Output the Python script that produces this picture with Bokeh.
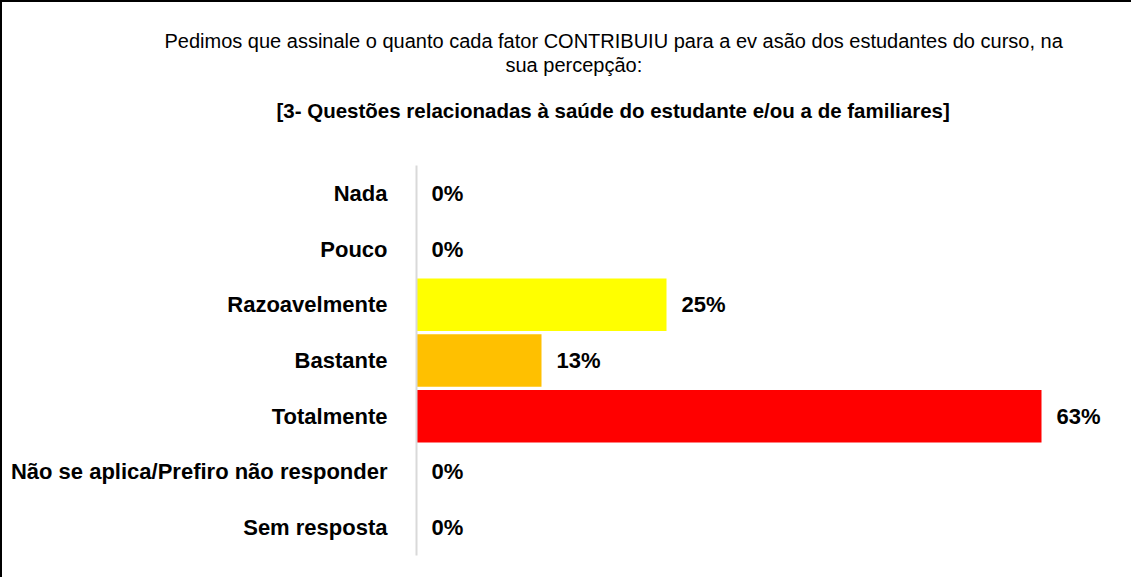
from bokeh.plotting import figure
from bokeh.models import FactorRange, Title, ColumnDataSource, FixedTicker
from bokeh.core.properties import value
from bokeh.embed import file_html
from bokeh.resources import INLINE

categories = ["Nada", "Pouco", "Razoavelmente", "Bastante", "Totalmente",
              "Não se aplica/Prefiro não responder", "Sem resposta"]
percentages = [0, 0, 25, 12.5, 62.5, 0, 0]
value_labels = ["0%", "0%", "25%", "13%", "63%", "0%", "0%"]
bar_colors = ["#FFFF00", "#FFFF00", "#FFFF00", "#FFC000", "#FF0000", "#FF0000", "#FF0000"]

title_line1 = "Pedimos que assinale o quanto cada fator CONTRIBUIU para a ev asão dos estudantes do curso, na"
title_line2 = "sua percepção:"
title_line3 = "[3- Questões relacionadas à saúde do estudante e/ou a de familiares]"

FONT = "'Liberation Sans', Arial, sans-serif"

source = ColumnDataSource(dict(cat=categories, val=percentages, lab=value_labels, col=bar_colors))

p = figure(width=1131, height=577, output_backend="svg", toolbar_location=None,
           y_range=FactorRange(factors=list(reversed(categories))),
           x_range=(0, 70), x_axis_location="above",
           min_border_left=414, min_border_right=17, min_border_top=163, min_border_bottom=24)
p.styles = {"border-top": "2px solid black", "border-left": "2px solid black"}
p.outline_line_color = None
p.grid.visible = False
p.background_fill_color = "white"
p.border_fill_color = "white"

p.hbar(y="cat", right="val", left=0, height=0.94, color="col", line_color=None, source=source)
p.text(x="val", y="cat", text="lab", source=source, x_offset=15, text_baseline="middle",
       text_align="left", text_font=value(FONT), text_font_style="bold",
       text_font_size="22px", text_color="black")

ax = p.yaxis[0]
ax.axis_line_color = "#D9D9D9"
ax.axis_line_width = 2
ax.major_tick_line_color = None
ax.minor_tick_line_color = None
ax.major_label_text_font = FONT
ax.major_label_text_font_style = "bold"
ax.major_label_text_font_size = "22px"
ax.major_label_text_color = "black"
ax.major_label_standoff = 23

# the value axis is hidden (white tick, empty label); it only keeps a gap under the titles
xa = p.xaxis[0]
xa.ticker = FixedTicker(ticks=[0])
xa.major_label_overrides = {0: ""}
xa.major_label_text_font_size = "1px"
xa.axis_line_color = None
xa.major_tick_line_color = "white"
xa.minor_tick_line_color = None
xa.major_tick_in = 0
xa.major_tick_out = 22
xa.minor_tick_in = 0
xa.minor_tick_out = 0
xa.major_label_standoff = 0

p.add_layout(Title(text=title_line3, align="left", offset=-140, standoff=43, text_font=FONT,
                   text_font_style="bold", text_font_size="20.5px", text_color="black"), "above")
p.add_layout(Title(text=title_line2, align="left", offset=89, standoff=0, text_font=FONT,
                   text_font_style="normal", text_font_size="20px", text_color="black"), "above")
p.add_layout(Title(text=title_line1, align="left", offset=-252, standoff=0, text_font=FONT,
                   text_font_style="normal", text_font_size="20px", text_color="black"), "above")

open("out.html", "w").write(file_html(p, INLINE))
